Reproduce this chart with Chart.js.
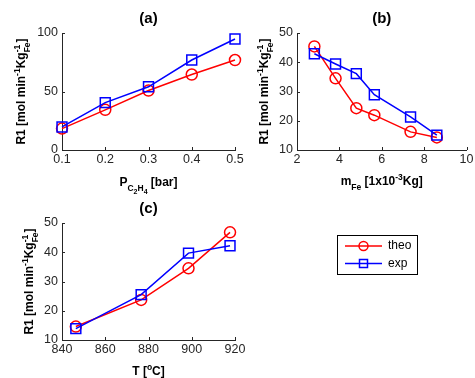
<!DOCTYPE html>
<html>
<head>
<meta charset="utf-8">
<script src="https://cdn.jsdelivr.net/npm/chart.js@4.4.1/dist/chart.umd.min.js"></script>
<style>
  html, body { margin: 0; padding: 0; background: #fff; }
  #wrap { position: relative; width: 475px; height: 378px; }
  #wrap canvas { position: absolute; left: 0; top: 0; }
</style>
</head>
<body>
<div id="wrap">
  <canvas id="chartA" width="475" height="378"></canvas>
  <canvas id="chartB" width="475" height="378"></canvas>
  <canvas id="chartC" width="475" height="378"></canvas>
</div>
<script>
// (a) rate vs ethylene partial pressure
const pressureBar = [0.1, 0.2, 0.3, 0.4, 0.5];
const rateTheoA = [18.3, 34.3, 50.8, 64.5, 76.9];
const rateExpA = [19.7, 40.5, 54.0, 76.9, 94.9];
const xTicksA = [0.1, 0.2, 0.3, 0.4, 0.5];
const yTicksA = [0, 50, 100];

// (b) rate vs catalyst mass
const massFe = [2.82, 3.82, 4.8, 5.65, 7.36, 8.6];
const rateTheoB = [45.4, 34.5, 24.3, 21.9, 16.2, 14.3];
const rateExpB = [42.9, 39.4, 36.1, 28.9, 21.3, 15.1];
const xTicksB = [2, 4, 6, 8, 10];
const yTicksB = [10, 20, 30, 40, 50];

// (c) rate vs temperature
const tempC = [846.4, 876.6, 898.5, 917.7];
const rateTheoC = [14.6, 23.7, 34.5, 46.8];
const rateExpC = [13.9, 25.5, 39.7, 42.2];
const xTicksC = [840, 860, 880, 900, 920];
const yTicksC = [10, 20, 30, 40, 50];

const seriesNames = ['theo', 'exp'];

const AXIS_COLOR = '#262626';
const FONT = '"Liberation Sans", Arial, sans-serif';
const RED = '#ff0000';
const BLUE = '#0000ff';
const Y_BOX = 60;   // fixed width of the y tick area
const X_BOX = 30;   // fixed height of the x tick area

// y label segments: [text, size, dy, stacked-on-previous]
const yLabelParts = [
    ['R1 [mol min', 12, 0], ['-1', 8.5, -5], ['Kg', 12, 0],
    ['-1', 8.5, -5], ['Fe', 8.5, 5, true], [']', 12, 0]
];

function drawRich(ctx, parts, cx, cy, rotate) {
    ctx.save();
    let total = 0, prevStart = 0;
    const placed = parts.map(p => {
        ctx.font = 'bold ' + p[1] + 'px ' + FONT;
        const w = ctx.measureText(p[0]).width;
        let x;
        if (p[3]) {
            x = prevStart;
            total = Math.max(total, prevStart + w);
        } else {
            x = total;
            total += w;
        }
        prevStart = x;
        return { t: p[0], size: p[1], dy: p[2], x: x };
    });
    ctx.translate(cx, cy);
    if (rotate) ctx.rotate(-Math.PI / 2);
    ctx.fillStyle = '#000';
    ctx.textBaseline = 'alphabetic';
    ctx.textAlign = 'left';
    placed.forEach(p => {
        ctx.font = 'bold ' + p.size + 'px ' + FONT;
        ctx.fillText(p.t, p.x - total / 2, p.dy);
    });
    ctx.restore();
}

const panelText = {
    id: 'panelText',
    afterDraw(chart, args, opts) {
        const ctx = chart.ctx;
        const area = chart.chartArea;
        const xs = chart.scales.x, ys = chart.scales.y;
        // inward ticks like MATLAB
        ctx.save();
        ctx.strokeStyle = AXIS_COLOR;
        ctx.lineWidth = 1;
        ctx.beginPath();
        xs.ticks.forEach(t => {
            const px = Math.round(xs.getPixelForValue(t.value)) + 0.5;
            ctx.moveTo(px, area.bottom);
            ctx.lineTo(px, area.bottom - 3);
        });
        ys.ticks.forEach(t => {
            const py = Math.round(ys.getPixelForValue(t.value)) + 0.5;
            ctx.moveTo(area.left, py);
            ctx.lineTo(area.left + 3, py);
        });
        ctx.stroke();

        // panel title
        ctx.fillStyle = '#000';
        ctx.font = 'bold 15px ' + FONT;
        ctx.textAlign = 'center';
        ctx.textBaseline = 'middle';
        ctx.fillText(opts.title, (area.left + area.right) / 2, area.top - 14);
        ctx.restore();

        drawRich(ctx, opts.xParts, (area.left + area.right) / 2, area.bottom + opts.xOffset, false);
        drawRich(ctx, yLabelParts, area.left - opts.yOffset, (area.top + area.bottom) / 2, true);

        if (opts.legend) {
            const L = opts.legend;
            ctx.save();
            ctx.fillStyle = '#fff';
            ctx.fillRect(L.x, L.y, L.w, L.h);
            ctx.strokeStyle = '#000';
            ctx.lineWidth = 1;
            ctx.strokeRect(L.x + 0.5, L.y + 0.5, L.w, L.h);
            chart.data.datasets.forEach((ds, i) => {
                const y = L.y + 11 + i * 17.5;
                ctx.strokeStyle = ds.borderColor;
                ctx.lineWidth = 1.5;
                ctx.beginPath();
                ctx.moveTo(L.x + 8, y);
                ctx.lineTo(L.x + 45, y);
                ctx.stroke();
                const mx = L.x + 26.5;
                ctx.beginPath();
                if (ds.pointStyle === 'circle') {
                    ctx.arc(mx, y, 4.5, 0, Math.PI * 2);
                } else {
                    ctx.rect(mx - 4, y - 4, 8, 8);
                }
                ctx.stroke();
                ctx.fillStyle = '#000';
                ctx.font = '12px ' + FONT;
                ctx.textAlign = 'left';
                ctx.textBaseline = 'middle';
                ctx.fillText(ds.label, L.x + 51, y);
            });
            ctx.restore();
        }
    }
};

function toPoints(xs, ys) {
    return xs.map((x, i) => ({ x: x, y: ys[i] }));
}

function makeScale(ticksList, pos) {
    return {
        type: 'linear',
        position: pos,
        min: ticksList[0],
        max: ticksList[ticksList.length - 1],
        afterBuildTicks: (scale) => {
            scale.ticks = ticksList.map(v => ({ value: v }));
        },
        afterFit: (scale) => {
            if (pos === 'bottom') scale.height = X_BOX; else scale.width = Y_BOX;
            scale.paddingLeft = 0; scale.paddingRight = 0;
            scale.paddingTop = 0; scale.paddingBottom = 0;
        },
        grid: { display: true, drawOnChartArea: false, drawTicks: false },
        border: { display: true, color: AXIS_COLOR, width: 1 },
        ticks: {
            color: AXIS_COLOR,
            font: { family: FONT, size: 12.5 },
            padding: pos === 'bottom' ? 2 : 4,
            maxRotation: 0,
            autoSkip: false
        }
    };
}

// area = [left, top, right, bottom] of the plot box in page pixels
function makeChart(id, xVals, theo, exp, xTicks, yTicks, area, panel) {
    const padding = {
        left: area[0] - Y_BOX,
        top: area[1],
        right: 475 - area[2],
        bottom: 378 - area[3] - X_BOX
    };
    return new Chart(document.getElementById(id), {
        type: 'scatter',
        data: {
            datasets: [
                {
                    label: seriesNames[0],
                    data: toPoints(xVals, theo),
                    showLine: true,
                    borderColor: RED,
                    backgroundColor: 'rgba(0,0,0,0)',
                    borderWidth: 1.5,
                    pointStyle: 'circle',
                    pointRadius: 5.5,
                    pointBorderWidth: 1.5,
                    pointBorderColor: RED,
                    pointBackgroundColor: 'rgba(0,0,0,0)',
                    clip: false,
                    order: 1
                },
                {
                    label: seriesNames[1],
                    data: toPoints(xVals, exp),
                    showLine: true,
                    borderColor: BLUE,
                    backgroundColor: 'rgba(0,0,0,0)',
                    borderWidth: 1.5,
                    pointStyle: 'rect',
                    pointRadius: 7,
                    pointBorderWidth: 1.5,
                    pointBorderColor: BLUE,
                    pointBackgroundColor: 'rgba(0,0,0,0)',
                    clip: false,
                    order: 0
                }
            ]
        },
        options: {
            responsive: false,
            animation: false,
            layout: { padding: padding },
            scales: {
                x: makeScale(xTicks, 'bottom'),
                y: makeScale(yTicks, 'left')
            },
            plugins: {
                legend: { display: false },
                tooltip: { enabled: false },
                panelText: panel
            }
        },
        plugins: [panelText]
    });
}

makeChart('chartA', pressureBar, rateTheoA, rateExpA, xTicksA, yTicksA,
    [62, 33, 235, 150],
    {
        title: '(a)', xOffset: 36, yOffset: 37,
        xParts: [['P', 12, 0], ['C', 8.5, 5], ['2', 7, 8], ['H', 8.5, 5], ['4', 7, 8], [' [bar]', 12, 0]]
    });

makeChart('chartB', massFe, rateTheoB, rateExpB, xTicksB, yTicksB,
    [297, 33, 470, 150],
    {
        title: '(b)', xOffset: 35, yOffset: 29,
        xParts: [['m', 12, 0], ['Fe', 8.5, 5], [' [1x10', 12, 0], ['-3', 8.5, -5], ['Kg]', 12, 0]]
    });

makeChart('chartC', tempC, rateTheoC, rateExpC, xTicksC, yTicksC,
    [62, 223, 235, 340],
    {
        title: '(c)', xOffset: 35, yOffset: 29,
        xParts: [['T [', 12, 0], ['o', 8.5, -5], ['C]', 12, 0]],
        legend: { x: 337, y: 235, w: 80, h: 39 }
    });
</script>
</body>
</html>
